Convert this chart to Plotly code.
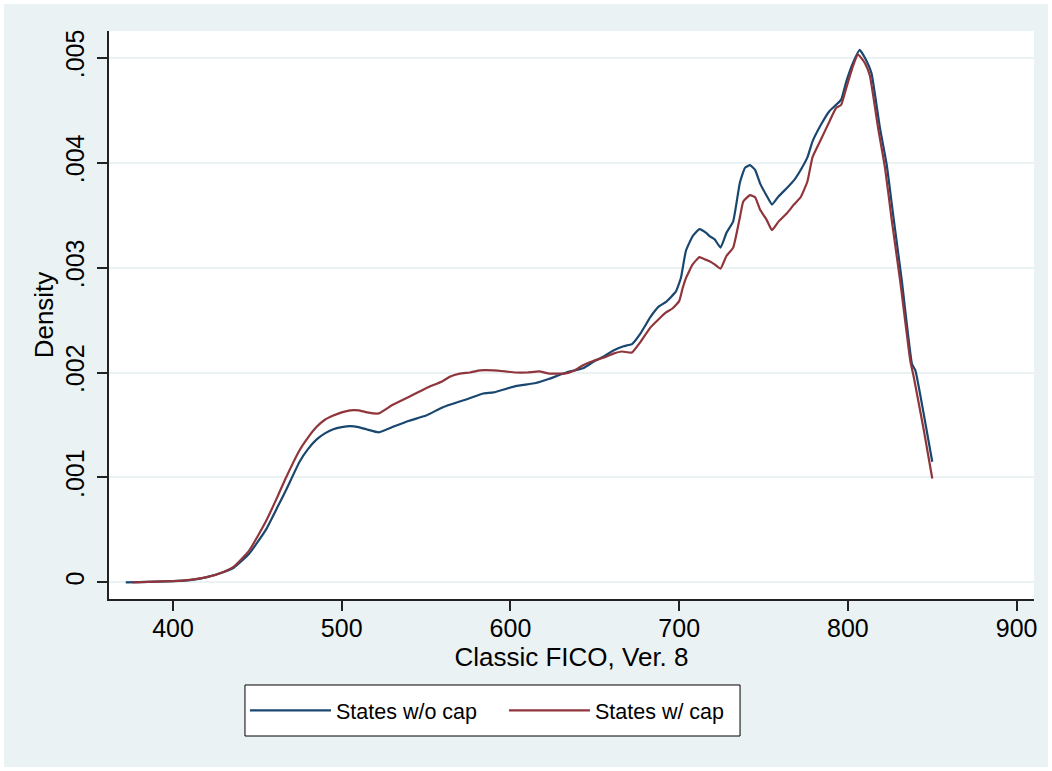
import plotly.graph_objects as go

# ---- data ----
x_nocap = [372, 380, 390, 400, 410, 420, 430, 436, 445, 455, 462, 467, 475, 480, 485, 490, 495, 500,
           505, 510, 515, 522, 530, 540, 550, 560, 575, 584, 590, 603, 615, 623, 633, 643, 649, 655,
           661, 667, 672, 677, 683, 688, 692, 698, 701, 704, 708, 712, 716, 718, 721, 724.5, 728, 732,
           736, 739, 742, 745, 748, 752, 755, 759, 764, 768, 772, 776, 779, 784, 789, 793, 796, 799,
           803, 807, 811, 814, 819, 823, 827, 832, 838, 840, 845, 850]
y_nocap = [0.0, 0.000003, 0.000008, 0.000012, 0.000022, 0.00005, 0.0001, 0.00014, 0.00027, 0.0005,
           0.00072, 0.00088, 0.00115, 0.00127, 0.00136, 0.00142, 0.00146, 0.00148, 0.00149, 0.00148,
           0.001457, 0.00143, 0.00148, 0.00154, 0.00159, 0.00167, 0.00175, 0.0018, 0.00181, 0.00187,
           0.0019, 0.00194, 0.002, 0.00204, 0.0021, 0.00215, 0.00221, 0.00225, 0.00227, 0.00237,
           0.00253, 0.00263, 0.00267, 0.00277, 0.0029, 0.00316, 0.0033, 0.003366, 0.00333, 0.0033,
           0.00327, 0.00319, 0.00333, 0.00344, 0.00381, 0.00395, 0.003976, 0.00393, 0.0038, 0.00368,
           0.0036, 0.00368, 0.00376, 0.00383, 0.00393, 0.00405, 0.0042, 0.00436, 0.00449, 0.00455,
           0.0046, 0.00477, 0.00495, 0.005075, 0.00497, 0.00485, 0.00433, 0.00398, 0.00348, 0.00287,
           0.00208, 0.00202, 0.0016, 0.00115]

x_cap = [376, 390, 400, 410, 420, 430, 436, 445, 455, 462, 467, 475, 480, 485, 490, 495, 500, 505,
         510, 515, 522, 530, 540, 550, 560, 564, 570, 576, 582, 590, 597, 603, 610, 617, 623, 628,
         632, 638, 643, 649, 655, 661, 666, 672, 677, 683, 688, 692, 696, 700, 702, 704, 708, 712,
         715, 718, 721, 724.5, 728, 732, 736, 738, 742, 745, 748, 752, 755, 759, 764, 768, 772, 776,
         779, 784, 789, 793, 796, 799, 803, 806, 810, 813, 818, 822, 826, 831, 837, 839, 845, 850]
y_cap = [0.0, 0.000008, 0.000013, 0.000025, 0.00005, 0.0001, 0.00015, 0.0003, 0.00058, 0.00082,
         0.001, 0.00126, 0.00138, 0.00148, 0.00155, 0.00159, 0.00162, 0.00164, 0.00164, 0.00162,
         0.00161, 0.00169, 0.00177, 0.00185, 0.00192, 0.00196, 0.00199, 0.002, 0.00202, 0.00202,
         0.00201, 0.002, 0.002, 0.00201, 0.00199, 0.00199, 0.00199, 0.00202, 0.00207, 0.00211,
         0.00214, 0.00218, 0.0022, 0.00219, 0.00229, 0.00243, 0.00251, 0.00257, 0.00261, 0.00268,
         0.0028, 0.0029, 0.00303, 0.0031, 0.00308, 0.00306, 0.00303, 0.00299, 0.00311, 0.00319,
         0.00348, 0.00363, 0.00369, 0.00367, 0.00355, 0.00345, 0.003356, 0.00344, 0.00352, 0.0036,
         0.00367, 0.00382, 0.00405, 0.00422, 0.00439, 0.00452, 0.00455, 0.00471, 0.00492, 0.00503,
         0.00495, 0.00483, 0.00432, 0.00395, 0.00345, 0.00287, 0.00211, 0.00196, 0.00145, 0.00099]

series_names = ["States w/o cap", "States w/ cap"]
series_colors = ["#1a476f", "#90353b"]

x_ticks = [400, 500, 600, 700, 800, 900]
y_ticks = [0, 0.001, 0.002, 0.003, 0.004, 0.005]
y_tick_labels = ["0", ".001", ".002", ".003", ".004", ".005"]

BG = "#EAF2F3"
FONT = "Liberation Sans, Arial, Helvetica, sans-serif"

fig = go.Figure()
for xs, ys, name, col in zip([x_nocap, x_cap], [y_nocap, y_cap], series_names, series_colors):
    fig.add_trace(go.Scatter(x=xs, y=ys, mode="lines", name=name,
                             line=dict(color=col, width=2.2, shape="spline", smoothing=0.4)))

fig.update_layout(
    width=1052, height=771,
    margin=dict(l=109, r=18, t=31, b=172),
    paper_bgcolor="white",
    plot_bgcolor="white",
    font=dict(family=FONT, color="black", size=25),
    showlegend=True,
    legend=dict(
        orientation="h",
        x=0.147, xanchor="left",
        y=-0.1963, yanchor="middle",
        bgcolor="rgba(0,0,0,0)",
        borderwidth=0,
        font=dict(size=21.5, family=FONT, color="black"),
        itemwidth=81,
        entrywidth=163,
        traceorder="normal",
    ),
    shapes=[
        # outer light background of the graph region
        dict(type="rect", xref="paper", yref="paper", layer="below",
             x0=-0.1135, x1=1.0151, y0=-0.2958, y1=1.0475,
             fillcolor=BG, line=dict(width=0)),
        # white plot region
        dict(type="rect", xref="paper", yref="paper", layer="below",
             x0=0, x1=1, y0=0, y1=1,
             fillcolor="white", line=dict(width=0)),
        # legend frame
        dict(type="rect", xref="paper", yref="paper", layer="below",
             x0=0.147, x1=0.6822, y0=-0.2412, y1=-0.1514,
             fillcolor="white", line=dict(color="black", width=1)),
    ],
)

fig.update_xaxes(
    range=[362.06, 910.3],
    tickmode="array", tickvals=x_ticks,
    ticks="outside", ticklen=10, tickwidth=1.5, tickcolor="#222",
    ticklabelstandoff=-4,
    showline=True, linecolor="#222", linewidth=1.5, mirror=False,
    showgrid=False, zeroline=False,
    tickfont=dict(size=25),
    title=dict(text="Classic FICO, Ver. 8", font=dict(size=26), standoff=0),
)
fig.update_yaxes(
    range=[-0.000158, 0.005254],
    tickmode="array", tickvals=y_ticks, ticktext=y_tick_labels,
    tickangle=-90,
    ticks="outside", ticklen=10, tickwidth=1.5, tickcolor="#222",
    ticklabelstandoff=3,
    showline=True, linecolor="#222", linewidth=1.5, mirror=False,
    showgrid=True, gridcolor=BG, gridwidth=1.5, zeroline=False,
    tickfont=dict(size=25),
    title=dict(text="Density", font=dict(size=26), standoff=0),
)

fig.write_html("out.html", config={"displayModeBar": False},
               post_script="document.body.style.margin='0';")
